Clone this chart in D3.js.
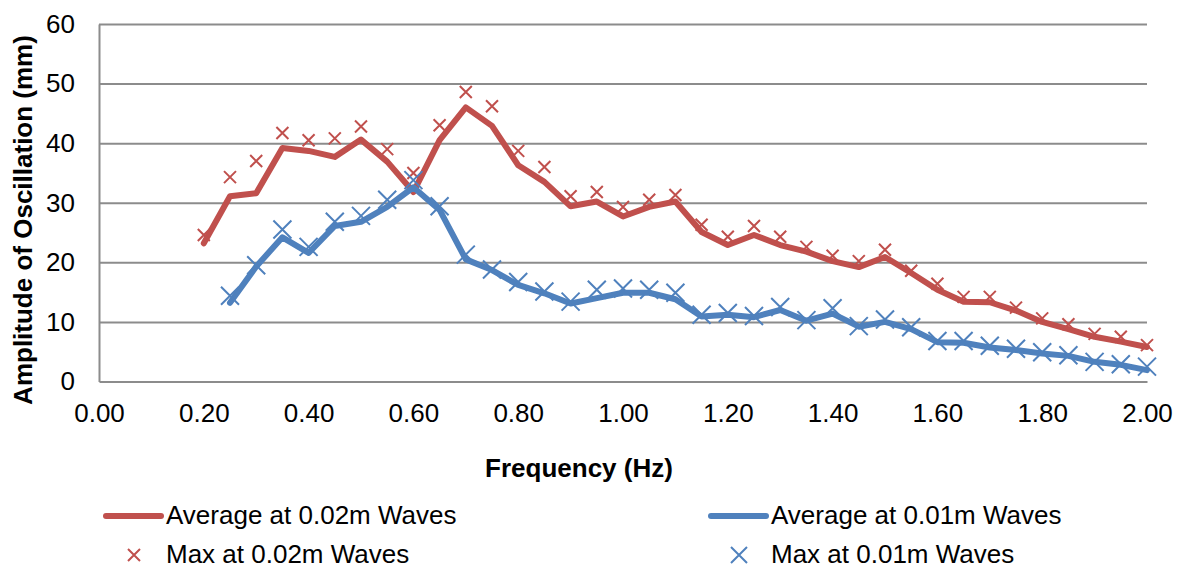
<!DOCTYPE html>
<html>
<head>
<meta charset="utf-8">
<script src="https://cdn.jsdelivr.net/npm/d3@7"></script>
<style>
  body { margin: 0; background: #fff; }
  svg { display: block; font-family: "Liberation Sans", Arial, sans-serif; }
</style>
</head>
<body>
<div id="chart"></div>
<script>
// frequencies (Hz)
var freq = [0.20, 0.25, 0.30, 0.35, 0.40, 0.45, 0.50, 0.55, 0.60, 0.65,
            0.70, 0.75, 0.80, 0.85, 0.90, 0.95, 1.00, 1.05, 1.10, 1.15,
            1.20, 1.25, 1.30, 1.35, 1.40, 1.45, 1.50, 1.55, 1.60, 1.65,
            1.70, 1.75, 1.80, 1.85, 1.90, 1.95, 2.00];

var avg02 = [23.2, 31.1, 31.6, 39.2, 38.7, 37.7, 40.6, 36.9, 31.8, 40.5,
             46.0, 42.9, 36.3, 33.5, 29.4, 30.2, 27.7, 29.3, 30.2, 25.1,
             22.9, 24.6, 22.9, 21.8, 20.2, 19.2, 20.9, 18.2, 15.4, 13.4,
             13.3, 11.9, 10.0, 8.8, 7.5, 6.7, 5.8];

var max02 = [24.6, 34.3, 37.0, 41.7, 40.5, 40.8, 42.8, 39.0, 35.0, 43.0,
             48.6, 46.2, 38.7, 36.0, 31.1, 31.8, 29.3, 30.5, 31.3, 26.3,
             24.3, 26.1, 24.3, 22.6, 21.1, 20.2, 22.1, 18.6, 16.4, 14.2,
             14.2, 12.4, 10.6, 9.6, 8.0, 7.5, 6.1];

var avg01 = [null, 13.2, 19.3, 24.2, 21.6, 26.1, 26.8, 29.3, 32.6, 28.8,
             20.5, 18.7, 16.2, 14.8, 13.1, 14.0, 14.9, 14.9, 13.8, 10.9,
             11.2, 10.8, 12.0, 10.2, 11.4, 9.2, 10.0, 8.8, 6.6, 6.5,
             5.7, 5.3, 4.7, 4.3, 3.3, 2.8, 1.9];

var max01 = [null, 14.4, 19.5, 25.5, 22.6, 26.8, 27.8, 30.5, 33.8, 29.4,
             21.3, 18.8, 16.7, 15.1, 13.4, 15.4, 15.6, 15.4, 14.9, 11.2,
             11.5, 11.0, 12.5, 10.3, 12.3, 9.3, 10.4, 9.1, 6.8, 6.8,
             6.0, 5.5, 4.9, 4.4, 3.3, 2.9, 2.5];

var xTicks = [0, 0.2, 0.4, 0.6, 0.8, 1.0, 1.2, 1.4, 1.6, 1.8, 2.0];
var yTicks = [0, 10, 20, 30, 40, 50, 60];

var RED = "#c0504d", BLUE = "#4f81bd", GRID = "#8c8c8c";
var FS = 26;

var width = 1184, height = 572;
var svg = d3.select("#chart").append("svg")
  .attr("width", width)
  .attr("height", height);

var x = d3.scaleLinear().domain([0, 2]).range([99, 1147]);
var y = d3.scaleLinear().domain([0, 60]).range([381.5, 24]);

// gridlines
svg.append("g")
  .attr("transform", "translate(99,0)")
  .call(d3.axisLeft(y).tickValues(yTicks.slice(1)).tickSize(-(1147 - 99)).tickFormat(""))
  .call(function(g){ g.select(".domain").remove(); })
  .selectAll("line")
  .attr("stroke", GRID)
  .attr("stroke-width", 2);

// y axis
var yAxis = svg.append("g")
  .attr("transform", "translate(99,0)")
  .call(d3.axisLeft(y).tickValues(yTicks).tickSize(0).tickPadding(24).tickFormat(d3.format("d")));
yAxis.select(".domain").attr("stroke", GRID).attr("stroke-width", 2);
yAxis.selectAll("text").attr("font-size", FS).attr("fill", "#000")
  .attr("font-family", "'Liberation Sans', Arial, sans-serif");

// x axis
var xAxis = svg.append("g")
  .attr("transform", "translate(0,381.5)")
  .call(d3.axisBottom(x).tickValues(xTicks).tickSize(0).tickPadding(22).tickFormat(d3.format(".2f")));
xAxis.select(".domain").attr("stroke", GRID).attr("stroke-width", 2);
xAxis.selectAll("text").attr("font-size", FS).attr("fill", "#000")
  .attr("font-family", "'Liberation Sans', Arial, sans-serif");

// axis titles
svg.append("text")
  .attr("x", 579).attr("y", 477)
  .attr("text-anchor", "middle")
  .attr("font-size", FS).attr("font-weight", "bold")
  .text("Frequency (Hz)");

svg.append("text")
  .attr("transform", "translate(32,220) rotate(-90)")
  .attr("text-anchor", "middle")
  .attr("font-size", FS).attr("font-weight", "bold")
  .text("Amplitude of Oscillation (mm)");

function rows(vals){
  return freq.map(function(f, i){ return {f: f, v: vals[i]}; })
    .filter(function(d){ return d.v != null; });
}

var line = d3.line()
  .x(function(d){ return x(d.f); })
  .y(function(d){ return y(d.v); });

function crossPath(s){
  return "M" + (-s) + "," + (-s) + "L" + s + "," + s + "M" + (-s) + "," + s + "L" + s + "," + (-s);
}

// lines
svg.append("path").datum(rows(avg02))
  .attr("d", line).attr("fill", "none")
  .attr("stroke", RED).attr("stroke-width", 6)
  .attr("stroke-linejoin", "round").attr("stroke-linecap", "round");

svg.append("path").datum(rows(avg01))
  .attr("d", line).attr("fill", "none")
  .attr("stroke", BLUE).attr("stroke-width", 6)
  .attr("stroke-linejoin", "round").attr("stroke-linecap", "round");

// markers
svg.append("g").selectAll("path").data(rows(max02)).enter()
  .append("path")
  .attr("transform", function(d){ return "translate(" + x(d.f) + "," + y(d.v) + ")"; })
  .attr("d", crossPath(6))
  .attr("stroke", RED).attr("stroke-width", 2).attr("fill", "none");

svg.append("g").selectAll("path").data(rows(max01)).enter()
  .append("path")
  .attr("transform", function(d){ return "translate(" + x(d.f) + "," + y(d.v) + ")"; })
  .attr("d", crossPath(9))
  .attr("stroke", BLUE).attr("stroke-width", 2).attr("fill", "none");

// legend
var legend = [
  {label: "Average at 0.02m Waves", color: RED, type: "line", lx: 106, ly: 516},
  {label: "Average at 0.01m Waves", color: BLUE, type: "line", lx: 711, ly: 516},
  {label: "Max at 0.02m Waves", color: RED, type: "x", lx: 106, ly: 555, s: 6},
  {label: "Max at 0.01m Waves", color: BLUE, type: "x", lx: 711, ly: 555, s: 8}
];

legend.forEach(function(d){
  var g = svg.append("g");
  if(d.type == "line"){
    g.append("line")
      .attr("x1", d.lx).attr("x2", d.lx + 55)
      .attr("y1", d.ly).attr("y2", d.ly)
      .attr("stroke", d.color).attr("stroke-width", 6)
      .attr("stroke-linecap", "round");
  }else{
    g.append("path")
      .attr("transform", "translate(" + (d.lx + 28) + "," + d.ly + ")")
      .attr("d", crossPath(d.s))
      .attr("stroke", d.color).attr("stroke-width", 2).attr("fill", "none");
  }
  g.append("text")
    .attr("x", d.lx + 60).attr("y", d.ly + 7.5)
    .attr("font-size", FS).attr("fill", "#000")
    .text(d.label);
});
</script>
</body>
</html>
